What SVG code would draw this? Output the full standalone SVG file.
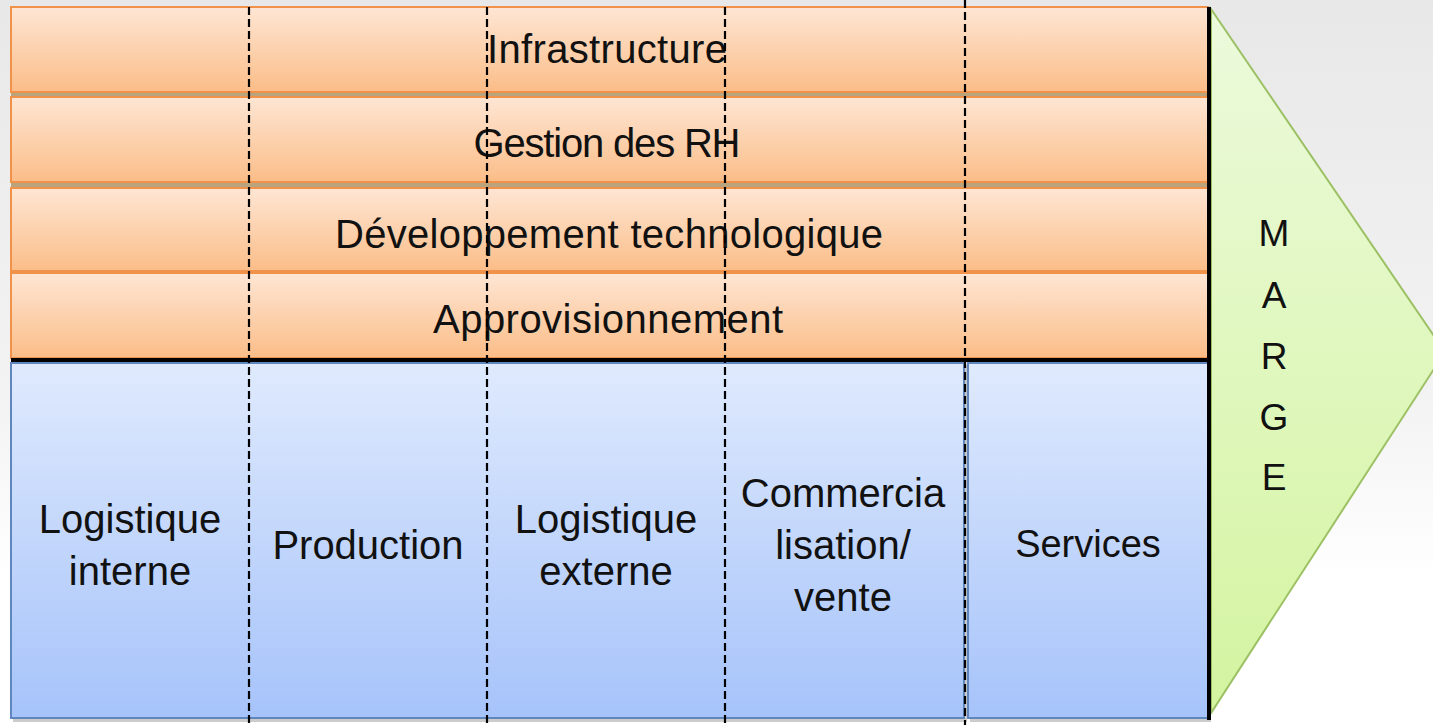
<svg xmlns="http://www.w3.org/2000/svg" width="1433" height="725" viewBox="0 0 1433 725">
  <defs>
    <linearGradient id="bg" x1="0" y1="0" x2="0" y2="1">
      <stop offset="0" stop-color="#e8e8e8"/>
      <stop offset="0.55" stop-color="#f3f3f3"/>
      <stop offset="0.8" stop-color="#ffffff"/>
    </linearGradient>
    <linearGradient id="orange" x1="0" y1="0" x2="0" y2="1">
      <stop offset="0" stop-color="#fee6d4"/>
      <stop offset="1" stop-color="#fbbd88"/>
    </linearGradient>
    <linearGradient id="blue" x1="0" y1="0" x2="0" y2="1">
      <stop offset="0" stop-color="#dfeafd"/>
      <stop offset="1" stop-color="#a6c3fa"/>
    </linearGradient>
    <linearGradient id="green" x1="0" y1="0" x2="0" y2="1">
      <stop offset="0" stop-color="#ecfadc"/>
      <stop offset="1" stop-color="#d4f4a0"/>
    </linearGradient>
    <style>
      .row { fill: url(#orange); stroke: #f0924a; stroke-width: 2; }
      .sep { fill: #b9a47e; }
      .box { fill: url(#blue); stroke: #5f86bd; stroke-width: 2; }
      .lbl { font-family: "Liberation Sans", Arial, sans-serif; font-size: 40px; fill: #111111; text-anchor: middle; }
      .m { font-size: 37px; }
      .guide { stroke: #000000; stroke-width: 2.2; stroke-dasharray: 8 4; fill: none; }
      .bold { stroke: #000000; stroke-width: 4; fill: none; }
    </style>
  </defs>

  <rect x="0" y="0" width="1433" height="725" fill="url(#bg)"/>

  <g id="marge">
    <polygon points="1211,9 1445,352 1211,713" fill="url(#green)" stroke="#9cc064" stroke-width="2"/>
    <text class="lbl m" x="1274" y="246">M</text>
    <text class="lbl m" x="1274" y="308">A</text>
    <text class="lbl m" x="1274" y="369">R</text>
    <text class="lbl m" x="1274" y="430">G</text>
    <text class="lbl m" x="1274" y="490">E</text>
  </g>

  <g id="infrastructure">
    <rect class="sep" x="11" y="92" width="1197" height="5"/>
    <rect class="row" x="11" y="7" width="1197" height="85"/>
    <text class="lbl" x="607" y="63" textLength="240">Infrastructure</text>
  </g>
  <g id="gestion-rh">
    <rect class="sep" x="11" y="182" width="1197" height="6"/>
    <rect class="row" x="11" y="97" width="1197" height="85"/>
    <text class="lbl" x="607" y="157" textLength="267">Gestion des RH</text>
  </g>
  <g id="developpement">
    <rect class="row" x="11" y="188" width="1197" height="83"/>
    <text class="lbl" x="609" y="248" textLength="548">Développement technologique</text>
  </g>
  <g id="approvisionnement">
    <rect class="row" x="11" y="273" width="1197" height="85"/>
    <text class="lbl" x="608" y="333" textLength="350">Approvisionnement</text>
  </g>

  <g id="primaires">
    <rect x="13" y="365" width="954" height="357" fill="#9a9a9a" opacity="0.5"/>
    <rect class="box" x="11" y="363" width="953" height="355"/>
  </g>
  <g id="logistique-interne">
    <text class="lbl" x="130" y="533">Logistique</text>
    <text class="lbl" x="130" y="585">interne</text>
  </g>
  <g id="production">
    <text class="lbl" x="368" y="559">Production</text>
  </g>
  <g id="logistique-externe">
    <text class="lbl" x="606" y="533">Logistique</text>
    <text class="lbl" x="606" y="585">externe</text>
  </g>
  <g id="commercialisation">
    <text class="lbl" x="843" y="507">Commercia</text>
    <text class="lbl" x="843" y="559">lisation/</text>
    <text class="lbl" x="843" y="611">vente</text>
  </g>
  <g id="services">
    <rect x="970" y="365" width="241" height="357" fill="#9a9a9a" opacity="0.5"/>
    <rect class="box" x="968" y="363" width="240" height="355"/>
    <text class="lbl" x="1088" y="557" style="font-size:38px">Services</text>
  </g>

  <g id="connectors">
    <line class="bold" x1="11" y1="360" x2="1209" y2="360"/>
    <line class="bold" x1="1209" y1="7" x2="1209" y2="720"/>
    <line class="guide" x1="249" y1="7" x2="249" y2="725"/>
    <line class="guide" x1="487" y1="7" x2="487" y2="725"/>
    <line class="guide" x1="725" y1="7" x2="725" y2="725"/>
    <line class="guide" x1="965" y1="0" x2="965" y2="725"/>
  </g>
</svg>
